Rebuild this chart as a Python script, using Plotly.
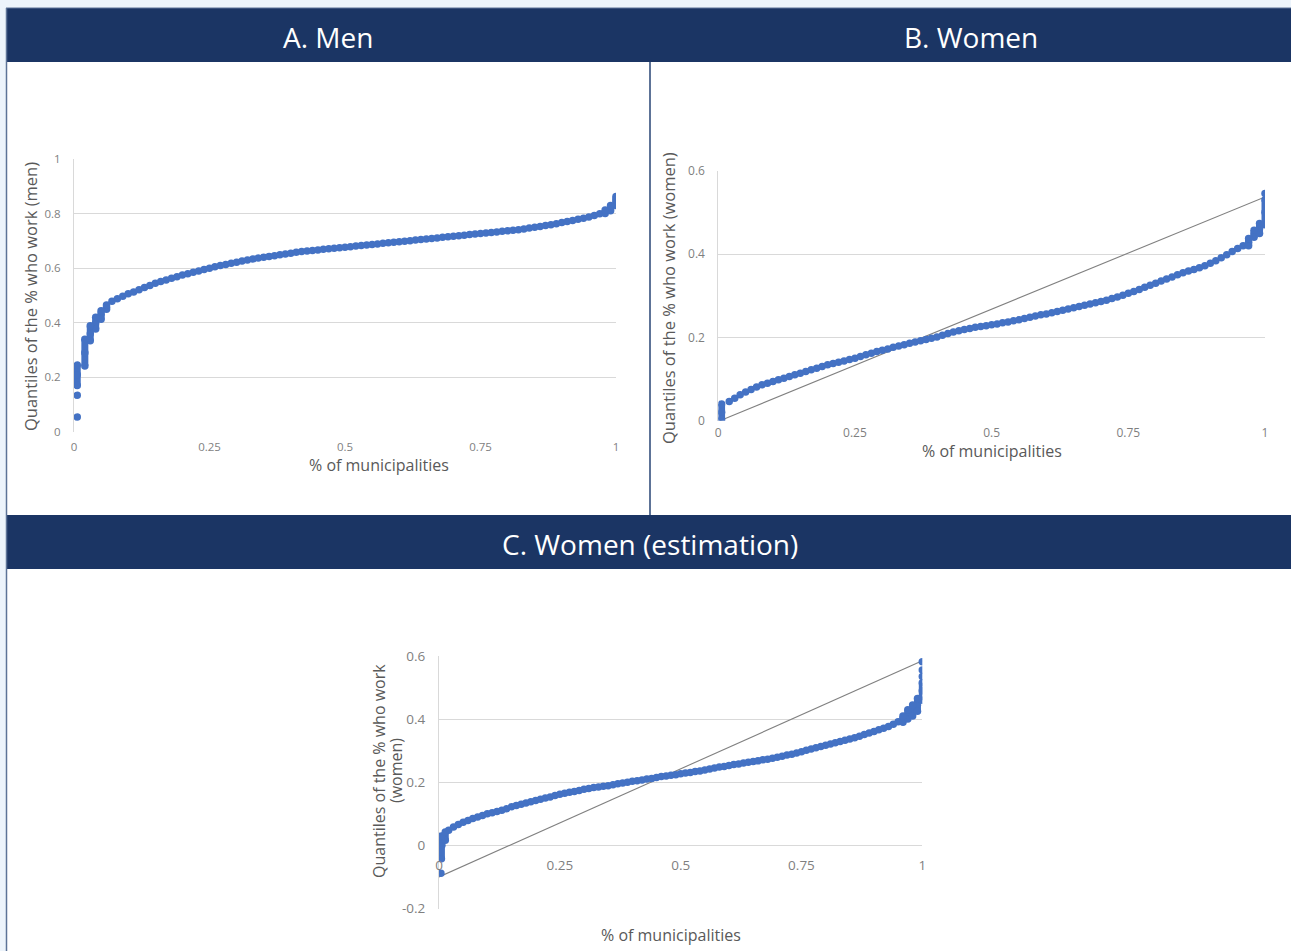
import plotly.graph_objects as go

# ---------------- DATA ----------------
PCT = [0.006, 0.02, 0.03, 0.04, 0.05, 0.06, 0.07, 0.08, 0.09, 0.10,
       0.11, 0.12, 0.13, 0.14, 0.15, 0.16, 0.17, 0.18, 0.19, 0.20,
       0.21, 0.22, 0.23, 0.24, 0.25, 0.26, 0.27, 0.28, 0.29, 0.30,
       0.31, 0.32, 0.33, 0.34, 0.35, 0.36, 0.37, 0.38, 0.39, 0.40,
       0.41, 0.42, 0.43, 0.44, 0.45, 0.46, 0.47, 0.48, 0.49, 0.50,
       0.51, 0.52, 0.53, 0.54, 0.55, 0.56, 0.57, 0.58, 0.59, 0.60,
       0.61, 0.62, 0.63, 0.64, 0.65, 0.66, 0.67, 0.68, 0.69, 0.70,
       0.71, 0.72, 0.73, 0.74, 0.75, 0.76, 0.77, 0.78, 0.79, 0.80,
       0.81, 0.82, 0.83, 0.84, 0.85, 0.86, 0.87, 0.88, 0.89, 0.90,
       0.91, 0.92, 0.93, 0.94, 0.95, 0.96, 0.97, 0.98, 0.99, 1.00]

men_q = [0.210, 0.290, 0.360, 0.400, 0.430, 0.457, 0.479, 0.488, 0.497, 0.506,
         0.513, 0.521, 0.529, 0.537, 0.545, 0.551, 0.557, 0.563, 0.569, 0.575,
         0.580, 0.585, 0.590, 0.595, 0.600, 0.605, 0.610, 0.614, 0.618, 0.622,
         0.626, 0.630, 0.634, 0.637, 0.640, 0.643, 0.646, 0.649, 0.652, 0.655,
         0.658, 0.661, 0.663, 0.665, 0.667, 0.669, 0.671, 0.673, 0.675, 0.677,
         0.679, 0.681, 0.683, 0.685, 0.687, 0.689, 0.691, 0.693, 0.695, 0.697,
         0.699, 0.701, 0.703, 0.705, 0.707, 0.709, 0.711, 0.713, 0.715, 0.717,
         0.719, 0.721, 0.723, 0.725, 0.727, 0.729, 0.731, 0.733, 0.735, 0.737,
         0.739, 0.741, 0.744, 0.747, 0.750, 0.753, 0.756, 0.759, 0.763, 0.767,
         0.771, 0.775, 0.779, 0.783, 0.788, 0.793, 0.799, 0.806, 0.820, 0.845]
men_range_x = [0.006, 0.02, 0.03, 0.04, 0.05, 0.06, 0.98, 0.99, 1.00]
men_range_lo = [0.170, 0.242, 0.334, 0.377, 0.413, 0.450, 0.800, 0.810, 0.830]
men_range_hi = [0.245, 0.340, 0.389, 0.420, 0.444, 0.465, 0.813, 0.830, 0.855]
men_out_x = [0.006, 0.006, 1.00]
men_out_y = [0.055, 0.135, 0.863]

women_q = [0.020, 0.046, 0.054, 0.062, 0.069, 0.075, 0.081, 0.086, 0.090, 0.094,
           0.098, 0.102, 0.106, 0.110, 0.114, 0.118, 0.122, 0.126, 0.130, 0.134,
           0.137, 0.140, 0.143, 0.147, 0.150, 0.154, 0.158, 0.162, 0.166, 0.169,
           0.172, 0.176, 0.179, 0.182, 0.186, 0.189, 0.192, 0.195, 0.198, 0.201,
           0.205, 0.209, 0.213, 0.216, 0.219, 0.221, 0.224, 0.226, 0.228, 0.230,
           0.232, 0.235, 0.237, 0.240, 0.242, 0.245, 0.248, 0.251, 0.254, 0.256,
           0.259, 0.262, 0.265, 0.268, 0.271, 0.274, 0.277, 0.280, 0.283, 0.286,
           0.289, 0.293, 0.297, 0.301, 0.306, 0.310, 0.315, 0.320, 0.325, 0.330,
           0.335, 0.340, 0.345, 0.350, 0.355, 0.359, 0.363, 0.367, 0.372, 0.378,
           0.384, 0.391, 0.398, 0.406, 0.413, 0.420, 0.428, 0.448, 0.461, 0.500]
women_range_x = [0.006, 0.97, 0.98, 0.99, 1.00]
women_range_lo = [0.003, 0.420, 0.440, 0.449, 0.470]
women_range_hi = [0.040, 0.437, 0.457, 0.473, 0.530]
women_out_x = [1.00]
women_out_y = [0.545]
women_ref_x = [0.003, 1.00]
women_ref_y = [0.000, 0.537]

est_q = [0.000, 0.048, 0.058, 0.066, 0.073, 0.079, 0.085, 0.090, 0.095, 0.100,
         0.103, 0.107, 0.111, 0.116, 0.122, 0.126, 0.130, 0.134, 0.138, 0.142,
         0.146, 0.150, 0.153, 0.158, 0.162, 0.165, 0.168, 0.171, 0.174, 0.178,
         0.180, 0.183, 0.185, 0.187, 0.189, 0.192, 0.195, 0.198, 0.200, 0.203,
         0.205, 0.207, 0.210, 0.212, 0.215, 0.218, 0.220, 0.222, 0.224, 0.227,
         0.229, 0.231, 0.234, 0.236, 0.239, 0.242, 0.245, 0.248, 0.250, 0.253,
         0.256, 0.258, 0.261, 0.263, 0.266, 0.268, 0.271, 0.273, 0.276, 0.279,
         0.282, 0.286, 0.289, 0.293, 0.297, 0.301, 0.305, 0.309, 0.313, 0.317,
         0.321, 0.325, 0.329, 0.333, 0.337, 0.341, 0.346, 0.351, 0.356, 0.361,
         0.366, 0.371, 0.377, 0.384, 0.392, 0.400, 0.415, 0.428, 0.445, 0.490]
est_range_x = [0.005, 0.013, 0.96, 0.97, 0.98, 0.99, 1.00]
est_range_lo = [-0.042, 0.016, 0.390, 0.400, 0.410, 0.425, 0.460]
est_range_hi = [0.030, 0.042, 0.410, 0.430, 0.445, 0.465, 0.515]
est_out_x = [0.004, 1.00, 1.00, 1.00]
est_out_y = [-0.088, 0.535, 0.556, 0.582]
est_ref_x = [0.00, 1.00]
est_ref_y = [-0.100, 0.585]

x_ticks = [0, 0.25, 0.5, 0.75, 1]
x_tick_text = ["0", "0.25", "0.5", "0.75", "1"]
men_y_ticks = [0, 0.2, 0.4, 0.6, 0.8, 1]
men_y_text = ["0", "0.2", "0.4", "0.6", "0.8", "1"]
women_y_ticks = [0, 0.2, 0.4, 0.6]
women_y_text = ["0", "0.2", "0.4", "0.6"]
est_y_ticks = [-0.2, 0, 0.2, 0.4, 0.6]
est_y_text = ["-0.2", "0", "0.2", "0.4", "0.6"]

panel_titles = ["A. Men", "B. Women", "C. Women (estimation)"]
x_title = "% of municipalities"
y_titles_ab = ["Quantiles of the % who work (men)",
               "Quantiles of the % who work (women)"]
y_title_c_lines = ["Quantiles of the % who work", "(women)"]

# ---------------- STYLE ----------------
W, H = 1291, 951
BLUE = "#4472C4"
NAVY = "#1B3564"
SLATE = "#5D7397"
PAGE = "#EDF4FB"
GRID = "#D9D9D9"
TICK = "#7F7F7F"
TITLE = "#595959"
FONT = "Open Sans"


def px(x):
    return x / W


def py(y):
    return 1 - y / H


def seg(xs, lo, hi):
    sx, sy = [], []
    for a, b, c in zip(xs, lo, hi):
        sx += [a, a, None]
        sy += [b, c, None]
    return sx, sy


fig = go.Figure()


def add_series(xa, ya, q, rx, rlo, rhi, ox, oy, ref=None):
    if ref is not None:
        fig.add_trace(go.Scatter(x=ref[0], y=ref[1], mode="lines",
                                 line=dict(color="#808080", width=1.1),
                                 xaxis=xa, yaxis=ya, hoverinfo="skip"))
    sx, sy = seg(rx, rlo, rhi)
    fig.add_trace(go.Scatter(x=sx, y=sy, mode="lines",
                             line=dict(color=BLUE, width=7),
                             xaxis=xa, yaxis=ya, hoverinfo="skip"))
    fig.add_trace(go.Scatter(x=PCT + rx + rx + ox, y=q + rlo + rhi + oy,
                             mode="markers",
                             marker=dict(color=BLUE, size=7.5, line=dict(width=0)),
                             xaxis=xa, yaxis=ya))


add_series("x", "y", men_q, men_range_x, men_range_lo, men_range_hi, men_out_x, men_out_y)
add_series("x2", "y2", women_q, women_range_x, women_range_lo, women_range_hi,
           women_out_x, women_out_y, (women_ref_x, women_ref_y))
add_series("x3", "y3", est_q, est_range_x, est_range_lo, est_range_hi,
           est_out_x, est_out_y, (est_ref_x, est_ref_y))

# ---------------- PANELS (shapes) ----------------
shapes = [
    dict(type="rect", xref="paper", yref="paper", x0=px(6), x1=px(W), y0=py(62), y1=py(8),
         fillcolor=NAVY, line=dict(width=0), layer="below"),
    dict(type="rect", xref="paper", yref="paper", x0=px(6), x1=px(W), y0=py(569), y1=py(515),
         fillcolor=NAVY, line=dict(width=0), layer="below"),
    dict(type="rect", xref="paper", yref="paper", x0=px(7), x1=px(649), y0=py(515), y1=py(62),
         fillcolor="white", line=dict(width=0), layer="below"),
    dict(type="rect", xref="paper", yref="paper", x0=px(651), x1=px(W), y0=py(515), y1=py(62),
         fillcolor="white", line=dict(width=0), layer="below"),
    dict(type="rect", xref="paper", yref="paper", x0=px(7), x1=px(W), y0=0, y1=py(569),
         fillcolor="white", line=dict(width=0), layer="below"),
    dict(type="line", xref="paper", yref="paper", x0=px(6.5), x1=px(6.5), y0=0, y1=py(8),
         line=dict(color=SLATE, width=1.5), layer="below"),
    dict(type="line", xref="paper", yref="paper", x0=px(650), x1=px(650), y0=py(515), y1=py(62),
         line=dict(color=SLATE, width=2), layer="below"),
    dict(type="line", xref="paper", yref="paper", x0=px(6), x1=px(W), y0=py(8), y1=py(8),
         line=dict(color=SLATE, width=1), layer="below"),
]

annotations = []
for t, cx, cy in zip(panel_titles, [328, 971, 650], [37, 37, 544]):
    annotations.append(dict(text=t, x=px(cx), y=py(cy), xref="paper", yref="paper",
                            showarrow=False, xanchor="center", yanchor="middle",
                            font=dict(family=FONT, size=28, color="white", weight=500)))

for cx, cy in [(379, 465), (992, 451), (671, 935)]:
    annotations.append(dict(text=x_title, x=px(cx), y=py(cy), xref="paper", yref="paper",
                            showarrow=False, xanchor="center", yanchor="middle",
                            font=dict(family=FONT, size=16, color=TITLE)))

for t, cx, cy in zip(y_titles_ab, [30, 668], [297, 298]):
    annotations.append(dict(text=t, x=px(cx), y=py(cy), xref="paper", yref="paper",
                            showarrow=False, xanchor="center", yanchor="middle",
                            textangle=-90,
                            font=dict(family=FONT, size=16.5, color=TITLE)))

for t, cx in zip(y_title_c_lines, [379, 396]):
    annotations.append(dict(text=t, x=px(cx), y=py(771), xref="paper", yref="paper",
                            showarrow=False, xanchor="center", yanchor="middle",
                            textangle=-90,
                            font=dict(family=FONT, size=16, color=TITLE)))


def xaxis(dom, fs, standoff, **kw):
    d = dict(domain=dom, range=[0, 1], tickvals=x_ticks, ticktext=x_tick_text,
             showgrid=False, zeroline=False, showline=False, ticks="",
             ticklabelstandoff=standoff, automargin=False,
             tickfont=dict(family=FONT, size=fs, color=TICK), fixedrange=True)
    d.update(kw)
    return d


def yaxis(dom, rng, vals, text, fs, **kw):
    d = dict(domain=dom, range=rng, tickvals=vals, ticktext=text,
             showgrid=True, gridcolor=GRID, gridwidth=1, zeroline=False,
             showline=True, linecolor=GRID, linewidth=1, ticks="",
             ticklabelstandoff=10, automargin=False,
             tickfont=dict(family=FONT, size=fs, color=TICK), fixedrange=True)
    d.update(kw)
    return d


fig.update_layout(
    template="none",
    width=W, height=H, autosize=False,
    margin=dict(l=0, r=0, t=0, b=0, pad=0, autoexpand=False),
    paper_bgcolor=PAGE, plot_bgcolor="rgba(0,0,0,0)",
    showlegend=False,
    font=dict(family=FONT),
    shapes=shapes, annotations=annotations,
    xaxis=xaxis([px(74), px(616)], 11.5, 6, anchor="y"),
    yaxis=yaxis([py(432), py(159)], [0, 1], men_y_ticks, men_y_text, 11.5, anchor="x"),
    xaxis2=xaxis([px(718.3), px(1265)], 12, 3, anchor="y2"),
    yaxis2=yaxis([py(420.7), py(170.7)], [0, 0.6], women_y_ticks, women_y_text, 12, anchor="x2"),
    xaxis3=xaxis([px(439), px(922.3)], 13.5, 10, anchor="free", position=py(845)),
    yaxis3=yaxis([py(908.5), py(656)], [-0.2, 0.6], est_y_ticks, est_y_text, 13.5, anchor="x3"),
)

fig.write_html("out.html", config={"displayModeBar": False, "staticPlot": True},
               post_script="document.body.style.margin='0';document.body.style.overflow='hidden';")
